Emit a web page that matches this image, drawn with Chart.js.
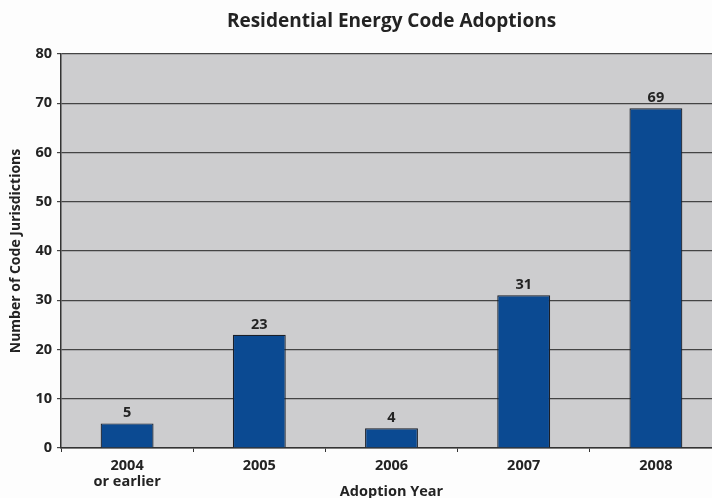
<!DOCTYPE html>
<html>
<head>
<meta charset="utf-8">
<script src="https://cdn.jsdelivr.net/npm/chart.js@4/dist/chart.umd.min.js"></script>
<style>
  html, body { margin: 0; padding: 0; background: #fdfdfd; overflow: hidden; }
  #wrap { width: 722px; height: 498px; }
</style>
</head>
<body>
<div id="wrap"><canvas id="chart" width="722" height="498"></canvas></div>
<script>
// adoption years and jurisdiction counts
const years = [['2004', 'or earlier'], '2005', '2006', '2007', '2008'];
const adoptions = [5, 23, 4, 31, 69];
const yTicks = [0, 10, 20, 30, 40, 50, 60, 70, 80];

const ink = '#232323';
const fontFamily = "'Open Sans', 'Noto Sans', sans-serif";

// gray plot panel behind the bars
const plotBackground = {
    id: 'plotBackground',
    beforeDraw(chart) {
        const { ctx, chartArea: a } = chart;
        ctx.save();
        ctx.fillStyle = '#cdcdcf';
        ctx.fillRect(a.left, a.top, a.right - a.left, a.bottom - a.top);
        ctx.restore();
    }
};

// value printed above each bar
const barValues = {
    id: 'barValues',
    afterDatasetsDraw(chart) {
        const { ctx } = chart;
        const meta = chart.getDatasetMeta(0);
        ctx.save();
        ctx.font = `bold 14.5px ${fontFamily}`;
        ctx.fillStyle = ink;
        ctx.textAlign = 'center';
        ctx.textBaseline = 'bottom';
        meta.data.forEach((bar, i) => {
            ctx.fillText(chart.data.datasets[0].data[i], bar.x, bar.y - 3);
        });
        ctx.restore();
    }
};

new Chart(document.getElementById('chart'), {
    type: 'bar',
    data: {
        labels: years,
        datasets: [{
            data: adoptions,
            backgroundColor: '#0b4a92',
            borderColor: '#1b1f28',
            borderWidth: 1.2,
            barPercentage: 0.4,
            categoryPercentage: 1
        }]
    },
    options: {
        responsive: false,
        animation: false,
        layout: { padding: 0 },
        plugins: {
            legend: { display: false },
            tooltip: { enabled: false },
            title: {
                display: true,
                text: 'Residential Energy Code Adoptions',
                fullSize: false,
                color: ink,
                font: { family: fontFamily, size: 19, weight: 'bold', lineHeight: 1.2 },
                padding: { top: 10, bottom: 21.2 }
            }
        },
        scales: {
            x: {
                afterFit: s => { s.height = 50; },
                grid: { display: true, offset: true, drawOnChartArea: false, drawTicks: true, tickLength: 4, color: '#333' },
                border: { display: true, color: '#333', width: 1.5 },
                ticks: { color: ink, padding: 6, font: { family: fontFamily, size: 14.5, weight: 'bold', lineHeight: 1.1 } },
                title: {
                    display: true,
                    text: 'Adoption Year',
                    color: ink,
                    font: { family: fontFamily, size: 14.5, weight: 'bold' },
                    padding: { top: 0, bottom: -3 }
                }
            },
            y: {
                min: 0,
                max: 80,
                afterFit: s => { s.width = 61; },
                afterBuildTicks: s => { s.ticks = yTicks.map(v => ({ value: v })); },
                grid: { color: '#444', lineWidth: 1.2, tickLength: 4 },
                border: { display: true, color: '#333', width: 1.5 },
                ticks: { color: ink, padding: 5, font: { family: fontFamily, size: 14.5, weight: 'bold' } },
                title: {
                    display: true,
                    text: 'Number of Code Jurisdictions',
                    color: ink,
                    font: { family: fontFamily, size: 14, weight: 'bold' },
                    padding: { top: 8, bottom: 0 }
                }
            }
        }
    },
    plugins: [plotBackground, barValues]
});
</script>
</body>
</html>
